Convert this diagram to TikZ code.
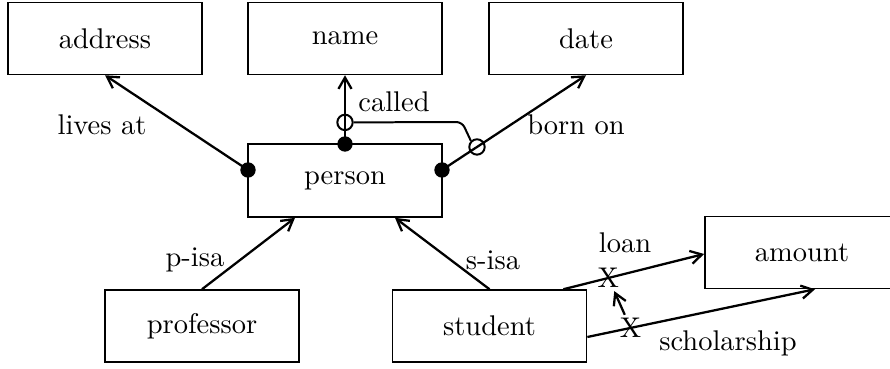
\documentclass[tikz,border=0pt]{standalone}
\usetikzlibrary{arrows.meta,calc}
\begin{document}
\begin{tikzpicture}[x=0.351pt,y=-0.351pt,
  box/.style={draw,line width=0.6pt,minimum width=68.1pt,minimum height=25.2pt,inner sep=0pt,font=\fontsize{10}{12}\selectfont},
  conn/.style={line width=0.8pt,-{Straight Barb[length=4pt,width=4.6pt]}},
  dot/.style={circle,fill,inner sep=0pt,minimum size=5.4pt},
  ring/.style={circle,draw,line width=0.7pt,inner sep=0pt,minimum size=5.4pt},
  lbl/.style={inner sep=0pt,font=\fontsize{10}{12}\selectfont},
  xmark/.style={inner sep=1pt,font=\fontsize{10}{12}\selectfont}]
\useasboundingbox (0,0) rectangle (890,369);
% boxes
\node[box] (address) at (105,38.5) {address};
\node[box] (name) at (345,38.5) {name};
\node[box] (date) at (586,38.5) {date};
\node[box,minimum height=25.6pt] (person) at (345,180.5) {person};
\node[box] (professor) at (202,326) {professor};
\node[box] (student) at (489.5,326) {student};
\node[box] (amount) at (802,252.5) {amount};
% dots on person
\node[dot] (dl) at (248,170) {};
\node[dot] (dt) at (345,144) {};
\node[dot] (dr) at (442,170) {};
% attribute arrows
\draw[conn] (dl.center) -- (address.south);
\draw[conn] (dt.center) -- (name.south);
\draw[conn] (dr.center) -- (date.south);
\path (dt.center) -- (name.south) node[ring,pos=0.314] (r1) {};
\path (dr.center) -- (date.south) node[ring,pos=0.243] (r2) {};
\draw[line width=0.7pt,rounded corners=2pt] (r1.east) -- (462,122) -- (r2.north west);
% isa arrows
\draw[conn] (professor.north) -- ($(person.south)+(-50,0)$);
\draw[conn] (student.north) -- ($(person.south)+(50,0)$);
% loan / scholarship
\coordinate (ls) at ($(student.north east)+(-24,0)$);
\coordinate (le) at ($(amount.west)+(0,1.5)$);
\coordinate (ss) at ($(student.east)+(0,11)$);
\coordinate (se) at ($(amount.south)+(13,0)$);
\draw[conn] (ls) -- (le);
\draw[conn] (ss) -- (se);
\path (ls) -- (le) node[xmark,pos=0.32] (xl) {X};
\path (ss) -- (se) node[xmark,pos=0.19] (xs) {X};
\draw[conn] (xs) -- (xl);
% labels
\node[lbl] (llives) at (102,125) {lives at};
\node[lbl] (lcalled) at (394,102) {called};
\node[lbl] (lborn) at (576,125) {born on};
\node[lbl] (lpisa) at (195,260) {p-isa};
\node[lbl] (lsisa) at (493,260) {s-isa};
\node[lbl] (lloan) at (625,243) {loan};
\node[lbl] (lschol) at (728,343) {scholarship};
\end{tikzpicture}
\end{document}
